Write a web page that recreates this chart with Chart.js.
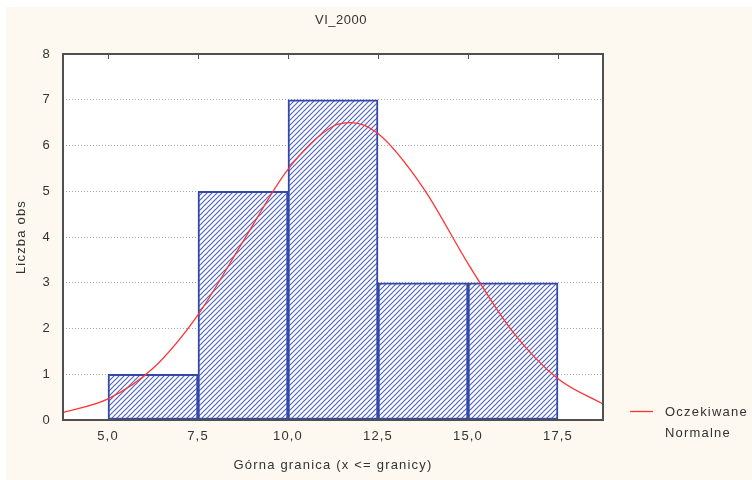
<!DOCTYPE html>
<html>
<head>
<meta charset="utf-8">
<script src="https://cdn.jsdelivr.net/npm/chart.js@4.4.0/dist/chart.umd.min.js"></script>
<style>
html, body { margin: 0; padding: 0; background: #fff; }
#bg { position: absolute; left: 6px; top: 7px; width: 746px; height: 473px; background: #fdf9f1; }
#wrap { position: absolute; left: 0; top: 0; width: 752px; height: 480px; }
</style>
</head>
<body>
<div id="bg"></div>
<div id="wrap"><canvas id="histChart" width="752" height="480"></canvas></div>
<script>
// histogram bins (centre of each 2.5 wide class) and counts
const binCenters = [6.25, 8.75, 11.25, 13.75, 16.25];
const binCounts = [1, 5, 7, 3, 3];

// expected normal curve
const curveX = [3.75, 5.0, 6.25, 7.5, 8.75, 10.0, 11.25, 11.75, 12.5, 13.75, 15.0, 16.25, 17.5, 18.75];
const curveY = [0.16, 0.46, 1.13, 2.3, 3.9, 5.48, 6.42, 6.5, 6.26, 5.08, 3.42, 1.92, 0.9, 0.35];

const xTicks = [5.0, 7.5, 10.0, 12.5, 15.0, 17.5];
const xTickLabels = ['5,0', '7,5', '10,0', '12,5', '15,0', '17,5'];

const textColor = '#333';
const fontFamily = '"Liberation Sans", Arial, sans-serif';
const baseFont = { family: fontFamily, size: 13 };
const spacing = '1.2px';

function hatchPattern() {
    const n = 5;
    const c = document.createElement('canvas');
    c.width = n; c.height = n;
    const g = c.getContext('2d');
    g.fillStyle = '#fff';
    g.fillRect(0, 0, n, n);
    g.strokeStyle = '#4f66c2';
    g.lineWidth = 1.2;
    g.beginPath();
    g.moveTo(0, n); g.lineTo(n, 0);
    g.moveTo(-1, 1); g.lineTo(1, -1);
    g.moveTo(n - 1, n + 1); g.lineTo(n + 1, n - 1);
    g.stroke();
    return g.createPattern(c, 'repeat');
}

// white plot area, frame, top ticks, title and legend
const decor = {
    id: 'decor',
    beforeLayout(chart) {
        chart.ctx.letterSpacing = spacing;
    },
    beforeDraw(chart) {
        const { ctx, chartArea: a } = chart;
        ctx.letterSpacing = spacing;
        ctx.save();
        ctx.fillStyle = '#fff';
        ctx.fillRect(a.left, a.top, a.right - a.left, a.bottom - a.top);
        ctx.restore();
    },
    afterDraw(chart) {
        const { ctx, chartArea: a } = chart;
        const xs = chart.scales.x;
        ctx.save();
        ctx.strokeStyle = '#505050';
        ctx.lineWidth = 2;
        ctx.strokeRect(a.left, a.top, a.right - a.left, a.bottom - a.top);
        ctx.lineWidth = 1;
        ctx.beginPath();
        xTicks.forEach(v => {
            const px = Math.round(xs.getPixelForValue(v)) + 0.5;
            ctx.moveTo(px, a.top);
            ctx.lineTo(px, a.top + 5);
        });
        ctx.stroke();

        ctx.fillStyle = textColor;
        ctx.font = '13px ' + fontFamily;
        ctx.textAlign = 'center';
        ctx.textBaseline = 'middle';
        ctx.letterSpacing = '0.5px';
        ctx.fillText('VI_2000', (a.left + a.right) / 2 + 8, 20);

        ctx.strokeStyle = '#ff3333';
        ctx.lineWidth = 1.3;
        ctx.beginPath();
        ctx.moveTo(630, 411.5);
        ctx.lineTo(653, 411.5);
        ctx.stroke();
        ctx.textAlign = 'left';
        ctx.letterSpacing = spacing;
        ctx.fillText('Oczekiwane', 665, 412);
        ctx.fillText('Normalne', 665, 433);
        ctx.restore();
    }
};

const ctx = document.getElementById('histChart').getContext('2d');
const histChart = new Chart(ctx, {
    type: 'bar',
    data: {
        datasets: [{
            type: 'line',
            label: 'Oczekiwane Normalne',
            data: curveX.map((x, i) => ({ x: x, y: curveY[i] })),
            borderColor: '#ff3333',
            borderWidth: 1.3,
            pointRadius: 0,
            tension: 0.4,
            cubicInterpolationMode: 'monotone',
            order: 0
        }, {
            label: 'Liczba obs',
            data: binCenters.map((x, i) => ({ x: x, y: binCounts[i] })),
            backgroundColor: hatchPattern(),
            borderColor: '#3448a8',
            borderWidth: 2,
            borderSkipped: false,
            barPercentage: 1,
            categoryPercentage: 1,
            order: 1
        }]
    },
    options: {
        responsive: false,
        animation: false,
        layout: { padding: { top: 54, right: 149, left: 0, bottom: 0 } },
        plugins: {
            legend: { display: false },
            title: { display: false },
            tooltip: { enabled: false }
        },
        scales: {
            x: {
                type: 'linear',
                min: 3.75,
                max: 18.75,
                offset: false,
                grid: { display: false, drawTicks: false },
                border: { display: false },
                afterBuildTicks: s => { s.ticks = xTicks.map(v => ({ value: v })); },
                afterFit: s => { s.height = 60; },
                ticks: {
                    callback: (v, i) => xTickLabels[i],
                    autoSkip: false,
                    maxRotation: 0,
                    padding: 9,
                    color: textColor,
                    font: baseFont
                },
                title: {
                    display: true,
                    text: 'Górna granica (x <= granicy)',
                    color: textColor,
                    font: baseFont,
                    padding: { top: 0, bottom: 7 }
                }
            },
            y: {
                min: 0,
                max: 8,
                afterFit: s => { s.width = 63; },
                ticks: { stepSize: 1, padding: 12, color: textColor, font: baseFont },
                grid: { color: '#a8a8a8', drawTicks: false },
                border: { display: false, dash: [1, 2] },
                title: {
                    display: true,
                    text: 'Liczba obs',
                    color: textColor,
                    font: baseFont,
                    padding: { top: 14, bottom: 0 }
                }
            }
        }
    },
    plugins: [decor]
});
</script>
</body>
</html>
